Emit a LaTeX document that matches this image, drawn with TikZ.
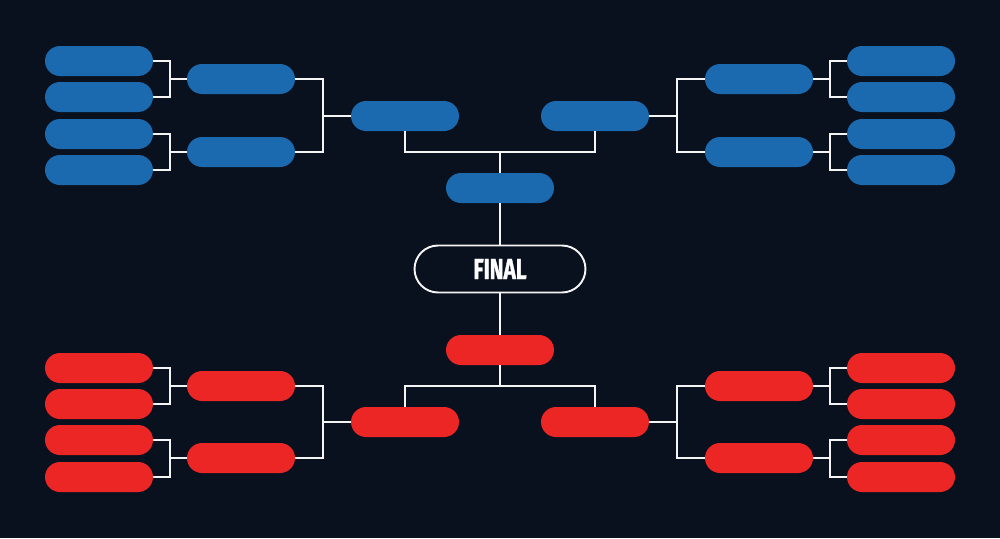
\documentclass[tikz,border=0pt]{standalone}
\usepackage{fontspec}
\newfontfamily\finalfont[FakeStretch=0.72, BoldFeatures={FakeBold=1.2}]{Fira Sans}
\definecolor{cBg}  {RGB}{10, 17, 30}
\definecolor{cBlue}{RGB}{27,105,175}
\definecolor{cRed} {RGB}{236,37, 37}
\definecolor{cLine}{RGB}{245,245,245}

\begin{document}
\begin{tikzpicture}[x=0.02cm, y=-0.02cm]

%% ── shared styles ─────────────────────────────────────────────────────────
\tikzset{
  slot/.style={
    rectangle, rounded corners=0.3cm,
    minimum width=2.16cm, minimum height=0.6cm,
    inner sep=0pt, draw=none, fill=#1
  },
  finalbox/.style={
    rectangle, rounded corners=0.47cm,
    minimum width=3.42cm, minimum height=0.94cm,
    inner sep=0pt, draw=cLine, fill=cBg, line width=1.1pt,
    text=white, font=\finalfont\bfseries\fontsize{16.5}{16.5}\selectfont
  },
  link/.style={draw=cLine, line width=1.65pt},
}

%% ── background ────────────────────────────────────────────────────────────
\fill[cBg] (0,0) rectangle (1000,538);

%% ── column x-centres (pixels) ─────────────────────────────────────────────
\def\cA{99}
\def\cB{241}
\def\cC{405}
\def\cM{500}
\def\cD{595}
\def\cE{759}
\def\cF{901}

%% ── bracket x-positions ───────────────────────────────────────────────────
\def\jA{170}
\def\jB{323}
\def\jE{677}
\def\jF{830}

%% ══════════════════════════════════════════════════════════════════════════
%% TOP HALF  –  blue
%% ══════════════════════════════════════════════════════════════════════════
\node[slot=cBlue]          (TL1R1) at (\cA, 61) {};
\node[slot=cBlue]          (TL1R2) at (\cA, 97) {};
\node[slot=cBlue]          (TL1R3) at (\cA,134) {};
\node[slot=cBlue]          (TL1R4) at (\cA,170) {};
\node[slot=cBlue]          (TL2R1) at (\cB, 79) {};
\node[slot=cBlue]          (TL2R2) at (\cB,152) {};
\node[slot=cBlue]          (TL3R1) at (\cC,116) {};

\node[slot=cBlue]          (TR1R1) at (\cF, 61) {};
\node[slot=cBlue]          (TR1R2) at (\cF, 97) {};
\node[slot=cBlue]          (TR1R3) at (\cF,134) {};
\node[slot=cBlue]          (TR1R4) at (\cF,170) {};
\node[slot=cBlue]          (TR2R1) at (\cE, 79) {};
\node[slot=cBlue]          (TR2R2) at (\cE,152) {};
\node[slot=cBlue]          (TR3R1) at (\cD,116) {};

\node[slot=cBlue]          (TSF)   at (\cM,188) {};

\coordinate (jTL1) at (\jA, 79);
\coordinate (jTL2) at (\jA,152);
\coordinate (jTL3) at (\jB,116);
\coordinate (jTR1) at (\jF, 79);
\coordinate (jTR2) at (\jF,152);
\coordinate (jTR3) at (\jE,116);
\coordinate (jT)   at (\cM,152);

\draw[link] (TL1R1.east) -| (jTL1) |- (TL1R2.east);
\draw[link] (jTL1) -- (TL2R1.west);
\draw[link] (TL1R3.east) -| (jTL2) |- (TL1R4.east);
\draw[link] (jTL2) -- (TL2R2.west);
\draw[link] (TL2R1.east) -| (jTL3) |- (TL2R2.east);
\draw[link] (jTL3) -- (TL3R1.west);

\draw[link] (TR1R1.west) -| (jTR1) |- (TR1R2.west);
\draw[link] (jTR1) -- (TR2R1.east);
\draw[link] (TR1R3.west) -| (jTR2) |- (TR1R4.west);
\draw[link] (jTR2) -- (TR2R2.east);
\draw[link] (TR2R1.west) -| (jTR3) |- (TR2R2.west);
\draw[link] (jTR3) -- (TR3R1.east);

\draw[link] (TL3R1.south) |- (jT) -| (TR3R1.south);
\draw[link] (jT) -- (TSF.north);

%% ══════════════════════════════════════════════════════════════════════════
%% FINAL
%% ══════════════════════════════════════════════════════════════════════════
\node[finalbox]            (FIN)   at (\cM,269) {FINAL};

\draw[link] (TSF.south) -- (FIN.north);

%% ══════════════════════════════════════════════════════════════════════════
%% BOTTOM HALF  –  red
%% ══════════════════════════════════════════════════════════════════════════
\node[slot=cRed]           (BSF)   at (\cM,350) {};

\node[slot=cRed]           (BL1R1) at (\cA,368) {};
\node[slot=cRed]           (BL1R2) at (\cA,404) {};
\node[slot=cRed]           (BL1R3) at (\cA,440) {};
\node[slot=cRed]           (BL1R4) at (\cA,477) {};
\node[slot=cRed]           (BL2R1) at (\cB,386) {};
\node[slot=cRed]           (BL2R2) at (\cB,458) {};
\node[slot=cRed]           (BL3R1) at (\cC,422) {};

\node[slot=cRed]           (BR1R1) at (\cF,368) {};
\node[slot=cRed]           (BR1R2) at (\cF,404) {};
\node[slot=cRed]           (BR1R3) at (\cF,440) {};
\node[slot=cRed]           (BR1R4) at (\cF,477) {};
\node[slot=cRed]           (BR2R1) at (\cE,386) {};
\node[slot=cRed]           (BR2R2) at (\cE,458) {};
\node[slot=cRed]           (BR3R1) at (\cD,422) {};

\coordinate (jBL1) at (\jA,386);
\coordinate (jBL2) at (\jA,458);
\coordinate (jBL3) at (\jB,422);
\coordinate (jBR1) at (\jF,386);
\coordinate (jBR2) at (\jF,458);
\coordinate (jBR3) at (\jE,422);
\coordinate (jB)   at (\cM,386);

\draw[link] (FIN.south) -- (BSF.north);
\draw[link] (BSF.south) -- (jB);
\draw[link] (BL3R1.north) |- (jB) -| (BR3R1.north);

\draw[link] (BL1R1.east) -| (jBL1) |- (BL1R2.east);
\draw[link] (jBL1) -- (BL2R1.west);
\draw[link] (BL1R3.east) -| (jBL2) |- (BL1R4.east);
\draw[link] (jBL2) -- (BL2R2.west);
\draw[link] (BL2R1.east) -| (jBL3) |- (BL2R2.east);
\draw[link] (jBL3) -- (BL3R1.west);

\draw[link] (BR1R1.west) -| (jBR1) |- (BR1R2.west);
\draw[link] (jBR1) -- (BR2R1.east);
\draw[link] (BR1R3.west) -| (jBR2) |- (BR1R4.west);
\draw[link] (jBR2) -- (BR2R2.east);
\draw[link] (BR2R1.west) -| (jBR3) |- (BR2R2.west);
\draw[link] (jBR3) -- (BR3R1.east);

\end{tikzpicture}
\end{document}
